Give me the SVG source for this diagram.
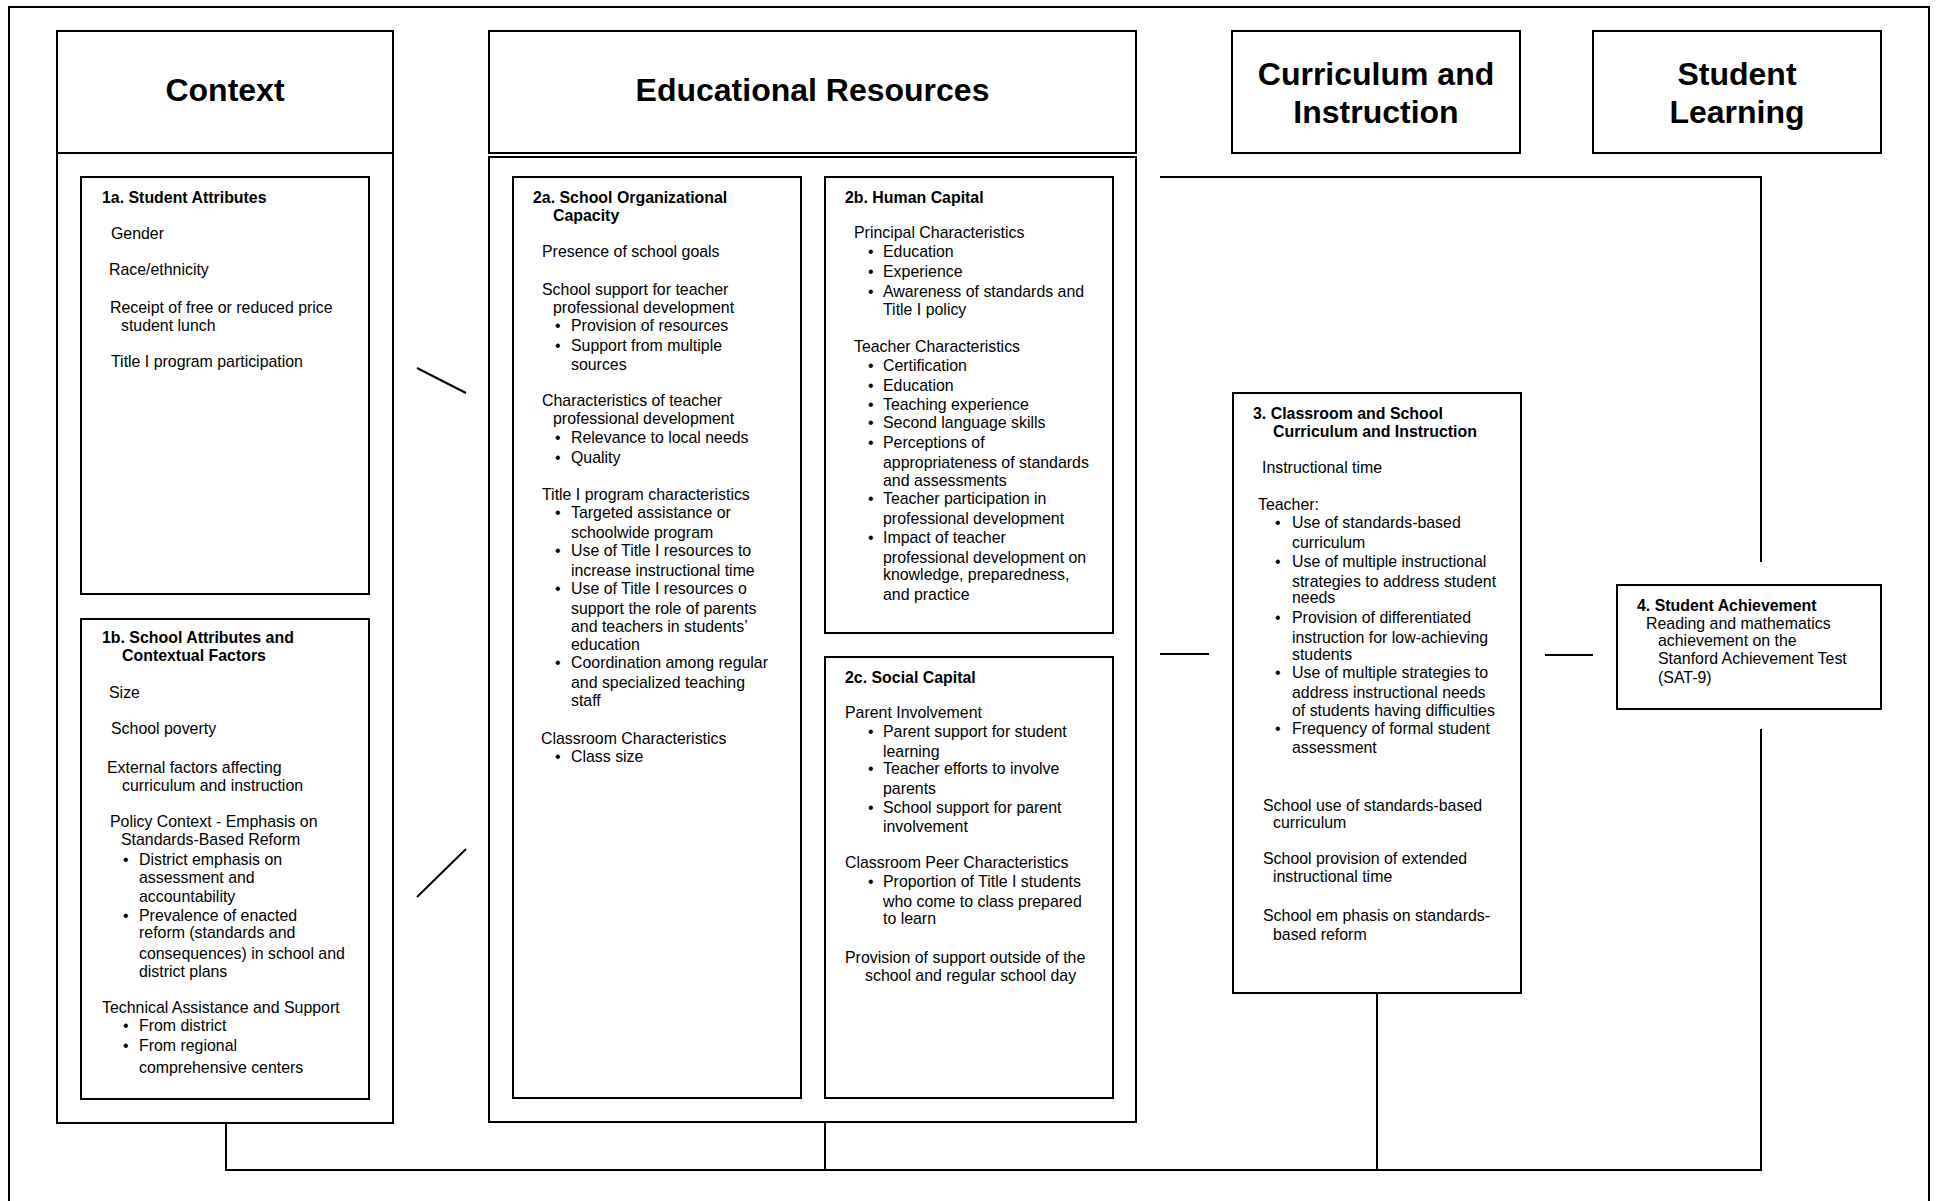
<svg xmlns="http://www.w3.org/2000/svg" width="1938" height="1201" viewBox="0 0 1938 1201">
  <style>
    .frame { fill: none; stroke: #000; stroke-width: 2; }
    .box { fill: #fff; stroke: #000; stroke-width: 2; }
    .ln { fill: none; stroke: #000; stroke-width: 2; }
    .h { font-family: "Liberation Sans", Arial, sans-serif; font-weight: bold; font-size: 32px; text-anchor: middle; fill: #000; }
    .t { font-family: "Liberation Sans", Arial, sans-serif; font-size: 15.9px; fill: #000; }
    .b { font-weight: bold; }
  </style>

  <rect width="1938" height="1201" fill="#fff"/>
  <!-- page frame, runs past the bottom edge -->
  <rect class="frame" x="9" y="7" width="1920" height="1220"/>

  <!-- connectors -->
  <g id="connectors">
    <line class="ln" x1="417" y1="368" x2="466" y2="393"/>
    <line class="ln" x1="417" y1="897" x2="466" y2="849"/>
    <polyline class="ln" points="1160,177 1761,177 1761,562"/>
    <line class="ln" x1="1160" y1="654" x2="1209" y2="654"/>
    <line class="ln" x1="1545" y1="655" x2="1593" y2="655"/>
    <polyline class="ln" points="226,1123 226,1170 1761,1170 1761,729"/>
    <line class="ln" x1="825" y1="1122" x2="825" y2="1170"/>
    <line class="ln" x1="1377" y1="993" x2="1377" y2="1170"/>
  </g>

  <!-- Context column -->
  <g id="context">
    <rect class="box" x="57" y="31" width="336" height="122"/>
    <rect class="box" x="57" y="153" width="336" height="970"/>
    <text class="h" x="225" y="101">Context</text>
  </g>

  <g id="n1a">
    <rect class="box" x="81" y="177" width="288" height="417"/>
    <text class="t b" x="102" y="203">1a. Student Attributes</text>
    <text class="t" x="111" y="239">Gender</text>
    <text class="t" x="109" y="275">Race/ethnicity</text>
    <text class="t" x="110" y="313">Receipt of free or reduced price</text>
    <text class="t" x="121" y="331">student lunch</text>
    <text class="t" x="111" y="367">Title I program participation</text>
  </g>

  <g id="n1b">
    <rect class="box" x="81" y="619" width="288" height="480"/>
    <text class="t b" x="102" y="643">1b. School Attributes and</text>
    <text class="t b" x="122" y="661">Contextual Factors</text>
    <text class="t" x="109" y="698">Size</text>
    <text class="t" x="111" y="734">School poverty</text>
    <text class="t" x="107" y="773">External factors affecting</text>
    <text class="t" x="122" y="791">curriculum and instruction</text>
    <text class="t" x="110" y="827">Policy Context - Emphasis on</text>
    <text class="t" x="121" y="845">Standards-Based Reform</text>
    <text class="t" x="123" y="865">•</text>
    <text class="t" x="139" y="865">District emphasis on</text>
    <text class="t" x="139" y="883">assessment and</text>
    <text class="t" x="139" y="902">accountability</text>
    <text class="t" x="123" y="921">•</text>
    <text class="t" x="139" y="921">Prevalence of enacted</text>
    <text class="t" x="139" y="938">reform (standards and</text>
    <text class="t" x="139" y="959">consequences) in school and</text>
    <text class="t" x="139" y="977">district plans</text>
    <text class="t" x="102" y="1013">Technical Assistance and Support</text>
    <text class="t" x="123" y="1031">•</text>
    <text class="t" x="139" y="1031">From district</text>
    <text class="t" x="123" y="1051">•</text>
    <text class="t" x="139" y="1051">From regional</text>
    <text class="t" x="139" y="1073">comprehensive centers</text>
  </g>

  <!-- Educational Resources column -->
  <g id="resources">
    <rect class="box" x="489" y="31" width="647" height="122"/>
    <rect class="box" x="489" y="157" width="647" height="965"/>
    <text class="h" x="812.5" y="101">Educational Resources</text>
  </g>

  <g id="n2a">
    <rect class="box" x="513" y="177" width="288" height="921"/>
    <text class="t b" x="533" y="203">2a. School Organizational</text>
    <text class="t b" x="553" y="221">Capacity</text>
    <text class="t" x="542" y="257">Presence of school goals</text>
    <text class="t" x="542" y="295">School support for teacher</text>
    <text class="t" x="553" y="313">professional development</text>
    <text class="t" x="555" y="331">•</text>
    <text class="t" x="571" y="331">Provision of resources</text>
    <text class="t" x="555" y="351">•</text>
    <text class="t" x="571" y="351">Support from multiple</text>
    <text class="t" x="571" y="370">sources</text>
    <text class="t" x="542" y="406">Characteristics of teacher</text>
    <text class="t" x="553" y="424">professional development</text>
    <text class="t" x="555" y="443">•</text>
    <text class="t" x="571" y="443">Relevance to local needs</text>
    <text class="t" x="555" y="463">•</text>
    <text class="t" x="571" y="463">Quality</text>
    <text class="t" x="542" y="500">Title I program characteristics</text>
    <text class="t" x="555" y="518">•</text>
    <text class="t" x="571" y="518">Targeted assistance or</text>
    <text class="t" x="571" y="538">schoolwide program</text>
    <text class="t" x="555" y="556">•</text>
    <text class="t" x="571" y="556">Use of Title I resources to</text>
    <text class="t" x="571" y="576">increase instructional time</text>
    <text class="t" x="555" y="594">•</text>
    <text class="t" x="571" y="594">Use of Title I resources o</text>
    <text class="t" x="571" y="614">support the role of parents</text>
    <text class="t" x="571" y="632">and teachers in students’</text>
    <text class="t" x="571" y="650">education</text>
    <text class="t" x="555" y="668">•</text>
    <text class="t" x="571" y="668">Coordination among regular</text>
    <text class="t" x="571" y="688">and specialized teaching</text>
    <text class="t" x="571" y="706">staff</text>
    <text class="t" x="541" y="744">Classroom Characteristics</text>
    <text class="t" x="555" y="762">•</text>
    <text class="t" x="571" y="762">Class size</text>
  </g>

  <g id="n2b">
    <rect class="box" x="825" y="177" width="288" height="456"/>
    <text class="t b" x="845" y="203">2b. Human Capital</text>
    <text class="t" x="854" y="238">Principal Characteristics</text>
    <text class="t" x="868" y="257">•</text>
    <text class="t" x="883" y="257">Education</text>
    <text class="t" x="868" y="277">•</text>
    <text class="t" x="883" y="277">Experience</text>
    <text class="t" x="868" y="297">•</text>
    <text class="t" x="883" y="297">Awareness of standards and</text>
    <text class="t" x="883" y="315">Title I policy</text>
    <text class="t" x="854" y="352">Teacher Characteristics</text>
    <text class="t" x="868" y="371">•</text>
    <text class="t" x="883" y="371">Certification</text>
    <text class="t" x="868" y="391">•</text>
    <text class="t" x="883" y="391">Education</text>
    <text class="t" x="868" y="410">•</text>
    <text class="t" x="883" y="410">Teaching experience</text>
    <text class="t" x="868" y="428">•</text>
    <text class="t" x="883" y="428">Second language skills</text>
    <text class="t" x="868" y="448">•</text>
    <text class="t" x="883" y="448">Perceptions of</text>
    <text class="t" x="883" y="468">appropriateness of standards</text>
    <text class="t" x="883" y="486">and assessments</text>
    <text class="t" x="868" y="504">•</text>
    <text class="t" x="883" y="504">Teacher participation in</text>
    <text class="t" x="883" y="524">professional development</text>
    <text class="t" x="868" y="543">•</text>
    <text class="t" x="883" y="543">Impact of teacher</text>
    <text class="t" x="883" y="563">professional development on</text>
    <text class="t" x="883" y="580">knowledge, preparedness,</text>
    <text class="t" x="883" y="600">and practice</text>
  </g>

  <g id="n2c">
    <rect class="box" x="825" y="657" width="288" height="441"/>
    <text class="t b" x="845" y="683">2c. Social Capital</text>
    <text class="t" x="845" y="718">Parent Involvement</text>
    <text class="t" x="868" y="737">•</text>
    <text class="t" x="883" y="737">Parent support for student</text>
    <text class="t" x="883" y="757">learning</text>
    <text class="t" x="868" y="774">•</text>
    <text class="t" x="883" y="774">Teacher efforts to involve</text>
    <text class="t" x="883" y="794">parents</text>
    <text class="t" x="868" y="813">•</text>
    <text class="t" x="883" y="813">School support for parent</text>
    <text class="t" x="883" y="832">involvement</text>
    <text class="t" x="845" y="868">Classroom Peer Characteristics</text>
    <text class="t" x="868" y="887">•</text>
    <text class="t" x="883" y="887">Proportion of Title I students</text>
    <text class="t" x="883" y="907">who come to class prepared</text>
    <text class="t" x="883" y="924">to learn</text>
    <text class="t" x="845" y="963">Provision of support outside of the</text>
    <text class="t" x="865" y="981">school and regular school day</text>
  </g>

  <!-- Curriculum and Instruction column -->
  <g id="curriculum">
    <rect class="box" x="1232" y="31" width="288" height="122"/>
    <text class="h" x="1376" y="85">Curriculum and</text>
    <text class="h" x="1376" y="123">Instruction</text>
  </g>

  <g id="n3">
    <rect class="box" x="1233" y="393" width="288" height="600"/>
    <text class="t b" x="1253" y="419">3. Classroom and School</text>
    <text class="t b" x="1273" y="437">Curriculum and Instruction</text>
    <text class="t" x="1262" y="473">Instructional time</text>
    <text class="t" x="1258" y="510">Teacher:</text>
    <text class="t" x="1275" y="528">•</text>
    <text class="t" x="1292" y="528">Use of standards-based</text>
    <text class="t" x="1292" y="548">curriculum</text>
    <text class="t" x="1275" y="567">•</text>
    <text class="t" x="1292" y="567">Use of multiple instructional</text>
    <text class="t" x="1292" y="587">strategies to address student</text>
    <text class="t" x="1292" y="603">needs</text>
    <text class="t" x="1275" y="623">•</text>
    <text class="t" x="1292" y="623">Provision of differentiated</text>
    <text class="t" x="1292" y="643">instruction for low-achieving</text>
    <text class="t" x="1292" y="660">students</text>
    <text class="t" x="1275" y="678">•</text>
    <text class="t" x="1292" y="678">Use of multiple strategies to</text>
    <text class="t" x="1292" y="698">address instructional needs</text>
    <text class="t" x="1292" y="716">of students having difficulties</text>
    <text class="t" x="1275" y="734">•</text>
    <text class="t" x="1292" y="734">Frequency of formal student</text>
    <text class="t" x="1292" y="753">assessment</text>
    <text class="t" x="1263" y="811">School use of standards-based</text>
    <text class="t" x="1273" y="828">curriculum</text>
    <text class="t" x="1263" y="864">School provision of extended</text>
    <text class="t" x="1273" y="882">instructional time</text>
    <text class="t" x="1263" y="921">School em phasis on standards-</text>
    <text class="t" x="1273" y="940">based reform</text>
  </g>

  <!-- Student Learning column -->
  <g id="learning">
    <rect class="box" x="1593" y="31" width="288" height="122"/>
    <text class="h" x="1737" y="85">Student</text>
    <text class="h" x="1737" y="123">Learning</text>
  </g>

  <g id="n4">
    <rect class="box" x="1617" y="585" width="264" height="124"/>
    <text class="t b" x="1637" y="611">4. Student Achievement</text>
    <text class="t" x="1646" y="629">Reading and mathematics</text>
    <text class="t" x="1658" y="646">achievement on the</text>
    <text class="t" x="1658" y="664">Stanford Achievement Test</text>
    <text class="t" x="1658" y="683">(SAT-9)</text>
  </g>
</svg>
